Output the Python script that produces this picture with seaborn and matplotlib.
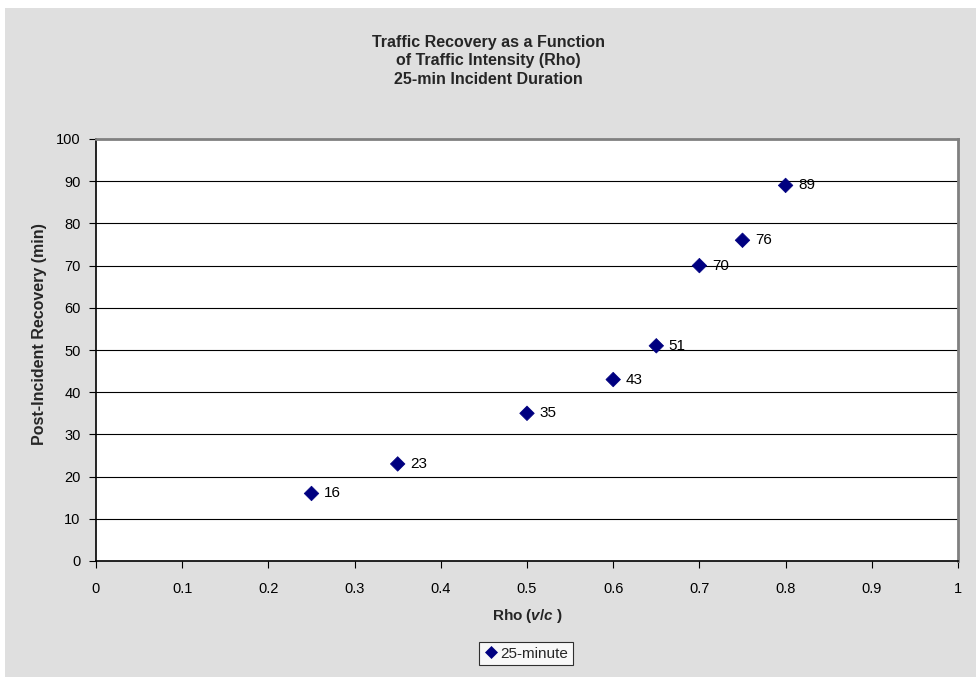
import matplotlib
matplotlib.use("Agg")
import matplotlib.pyplot as plt
from matplotlib.patches import Rectangle
import seaborn as sns
import pandas as pd

# Traffic intensity (v/c) and post-incident recovery time (minutes)
rho = [0.25, 0.35, 0.50, 0.60, 0.65, 0.70, 0.75, 0.80]
recovery = [16, 23, 35, 43, 51, 70, 76, 89]
series_name = "25-minute"
x_ticks = [0, 0.1, 0.2, 0.3, 0.4, 0.5, 0.6, 0.7, 0.8, 0.9, 1]
x_tick_labels = ["0", "0.1", "0.2", "0.3", "0.4", "0.5", "0.6", "0.7", "0.8", "0.9", "1"]
y_ticks = [0, 10, 20, 30, 40, 50, 60, 70, 80, 90, 100]

df = pd.DataFrame({"rho": rho, "recovery": recovery, "series": series_name})

sns.set_theme(style="white")
plt.rcParams["font.family"] = ["Liberation Sans", "DejaVu Sans"]
plt.rcParams["mathtext.fontset"] = "custom"
plt.rcParams["mathtext.it"] = "Liberation Sans:italic:bold"
plt.rcParams["mathtext.rm"] = "Liberation Sans:bold"

W, H = 976, 677
fig = plt.figure(figsize=(W / 100, H / 100), dpi=100)
fig.patch.set_facecolor("white")

# Grey chart area behind everything
fig.patches.append(Rectangle((5 / W, 0), 1 - 5 / W, 1 - 8 / H,
                             transform=fig.transFigure, facecolor="#dfdfdf",
                             edgecolor="none", zorder=-10))

ax = fig.add_axes([96 / W, (H - 561) / H, (958 - 96) / W, (561 - 139) / H])
ax.set_facecolor("white")

navy = "#000080"
sns.scatterplot(data=df, x="rho", y="recovery", hue="series", palette=[navy],
                marker="D", s=55, edgecolor=navy, linewidth=0.5, ax=ax, zorder=5)

for xv, yv in zip(rho, recovery):
    ax.annotate(f"{yv}", (xv, yv), xytext=(9, 0), textcoords="offset points",
                va="center", ha="left", fontsize=11, color="black", zorder=6)

ax.set_xlim(0, 1)
ax.set_ylim(0, 100)
ax.set_xticks(x_ticks)
ax.set_xticklabels(x_tick_labels)
ax.set_yticks(y_ticks)
ax.tick_params(axis="both", which="major", direction="out", length=5, width=0.8,
               color="black", labelsize=10.5, labelcolor="black", pad=6,
               bottom=True, left=True)
ax.tick_params(axis="x", pad=10)

for yv in y_ticks[1:-1]:
    ax.axhline(yv, color="black", lw=0.8, zorder=1)

for side in ("left", "bottom"):
    ax.spines[side].set_color("black")
    ax.spines[side].set_linewidth(1.2)
for side in ("top", "right"):
    ax.spines[side].set_color("#808080")
    ax.spines[side].set_linewidth(2)

ax.set_xlabel(r"Rho ($\mathit{v/c}$ )", fontsize=11, fontweight="bold", labelpad=8)
ax.set_ylabel("Post-Incident Recovery (min)", fontsize=11.5, fontweight="bold")
ax.yaxis.set_label_coords(-0.057, 0.538)

fig.text(0.5, 1 - 61 / H,
         "Traffic Recovery as a Function\nof Traffic Intensity (Rho)\n25-min Incident Duration",
         ha="center", va="center", fontsize=11.5, fontweight="bold", linespacing=1.32)

leg = ax.legend(loc="center", bbox_to_anchor=(526 / W, (H - 653.5) / H),
                bbox_transform=fig.transFigure, frameon=True, fancybox=False,
                edgecolor="black", fontsize=11, handletextpad=0.15,
                borderpad=0.3, handlelength=0.9, borderaxespad=0)
for h in leg.legend_handles:
    if hasattr(h, "set_markersize"):
        h.set_markersize(6)
    elif hasattr(h, "set_sizes"):
        h.set_sizes([35])
leg.get_frame().set_linewidth(0.8)
leg.get_frame().set_facecolor("white")

fig.savefig("out.png", dpi=100, facecolor=fig.get_facecolor())
